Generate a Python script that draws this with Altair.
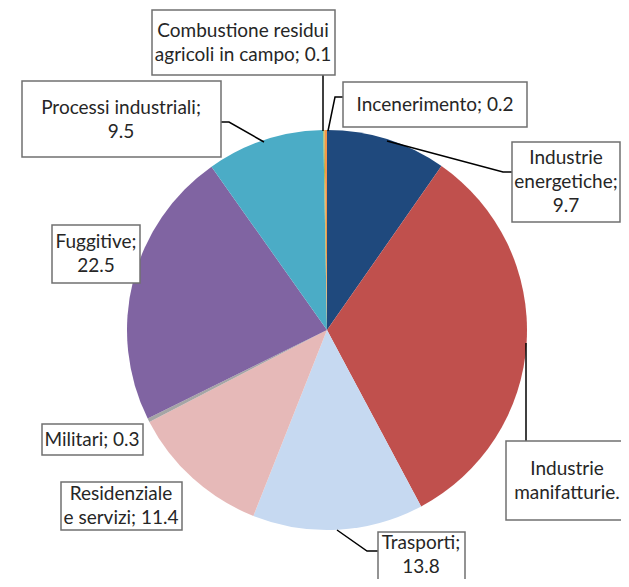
import altair as alt
import pandas as pd

categories = ["Industrie energetiche", "Industrie manifatturiere", "Trasporti",
              "Residenziale e servizi", "Militari", "Fuggitive", "Processi industriali",
              "Combustione residui agricoli in campo", "Incenerimento"]
values = [9.7, 32.5, 13.8, 11.4, 0.3, 22.5, 9.5, 0.1, 0.2]
colors = ["#1F497D", "#C0504D", "#C6D9F1", "#E6B9B8", "#A5A5A5", "#8064A2",
          "#4BACC6", "#9BBB59", "#F79646"]

label_texts = ["Combustione residui\nagricoli in campo; 0.1", "Incenerimento; 0.2",
               "Industrie\nenergetiche;\n9.7", "Industrie\nmanifatturie.",
               "Trasporti;\n13.8", "Residenziale\ne servizi; 11.4", "Militari; 0.3",
               "Fuggitive;\n22.5", "Processi industriali;\n9.5"]

# label box layout (pixels, image coordinates)
OFF = 8
LH = 24
boxes = [(152, 335, 10, 75), (343, 527, 82, 127), (512, 620, 142, 222),
         (506, 640, 441, 520), (378, 465, 532, 600), (61, 182, 482, 530),
         (42, 143, 424, 455), (52, 140, 225, 283), (22, 221, 81, 157)]
text_pos = [(243, 43), (435, 105), (566, 182), (567, 481), (421, 555),
            (121, 506), (92, 440), (96, 254), (121, 120)]
leaders = [
    [(323, 75), (323, 131)],
    [(343, 97), (335, 97), (328, 131)],
    [(387, 141), (503, 172), (512, 172)],
    [(526, 343), (526, 441)],
    [(337, 530), (367, 551), (378, 551)],
    [(221, 122), (229, 122), (264, 142)],
]

pie_df = pd.DataFrame({"cat": categories, "value": values, "order": list(range(len(values)))})

box_df = pd.DataFrame({
    "x": [b[0] - OFF for b in boxes], "x2": [b[1] - OFF for b in boxes],
    "y": [b[2] - OFF for b in boxes], "y2": [b[3] - OFF for b in boxes],
})
text_df = pd.DataFrame({
    "x": [p[0] - OFF for p in text_pos],
    "y": [p[1] - OFF - (t.count("\n")) * LH / 2 for p, t in zip(text_pos, label_texts)],
    "t": label_texts,
})
rows = []
for i, seg in enumerate(leaders):
    for j, (px, py) in enumerate(seg):
        rows.append({"id": i, "seq": j, "x": px - OFF, "y": py - OFF})
line_df = pd.DataFrame(rows)

CX, CY, R = 327 - OFF, 330 - OFF, 200

pie = alt.Chart(pie_df).mark_arc(radius=R).encode(
    theta=alt.Theta("value:Q", stack=True),
    order=alt.Order("order:Q"),
    color=alt.Color("cat:N", scale=alt.Scale(domain=categories, range=colors), legend=None),
    x=alt.value(CX), y=alt.value(CY),
)

lines = alt.Chart(line_df).mark_line(color="black", strokeWidth=1.5).encode(
    x=alt.X("x:Q", scale=None), y=alt.Y("y:Q", scale=None),
    detail="id:N", order="seq:Q",
)

rects = alt.Chart(box_df).mark_rect(fill="white", stroke="#707070", strokeWidth=1.5).encode(
    x=alt.X("x:Q", scale=None), x2="x2:Q",
    y=alt.Y("y:Q", scale=None), y2="y2:Q",
)

texts = alt.Chart(text_df).mark_text(
    font="Lato", fontSize=19, lineBreak="\n", lineHeight=LH,
    align="center", baseline="middle", color="#262626",
).encode(
    x=alt.X("x:Q", scale=None), y=alt.Y("y:Q", scale=None), text="t:N",
)

chart = alt.layer(pie, lines, rects, texts).properties(
    width=613, height=571, padding=0,
    autosize=alt.AutoSizeParams(type="none"),
).configure_view(stroke=None)

chart.save("out.html", embed_options={"renderer": "svg", "actions": False})
